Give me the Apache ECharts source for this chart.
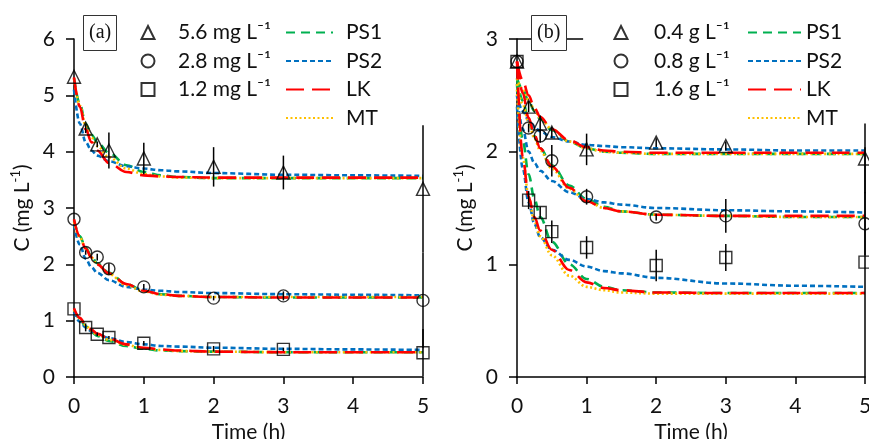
<!DOCTYPE html>
<html>
<head>
<meta charset="utf-8">
<script src="https://cdn.jsdelivr.net/npm/echarts@6/dist/echarts.min.js"></script>
<style>
html,body{margin:0;padding:0;background:#fff;}
#c{width:869px;height:439px;}
</style>
</head>
<body>
<div id="c"></div>
<script>
// ---------- measured points ----------
const tMeas = [0, 0.167, 0.333, 0.5, 1, 2, 3, 5];
// panel (a)
const a56 = [5.33, 4.41, 4.13, 4.02, 3.88, 3.73, 3.63, 3.34];
const a56Err = [0, 0.08, 0.05, 0.32, 0.28, 0.35, 0.3, 1.13];
const a28 = [2.8, 2.21, 2.13, 1.92, 1.6, 1.4, 1.44, 1.36];
const a28Err = [0, 0.04, 0.06, 0.1, 0.05, 0.04, 0.08, 0.85];
const a12 = [1.21, 0.88, 0.76, 0.7, 0.6, 0.5, 0.49, 0.43];
const a12Err = [0, 0.07, 0.03, 0.03, 0.04, 0.05, 0.03, 0.42];
// panel (b)
const b04 = [2.8, 2.4, 2.25, 2.17, 2.02, 2.08, 2.05, 1.94];
const b04Err = [0, 0.05, 0.07, 0.05, 0.14, 0.04, 0.04, 0.31];
const b08 = [2.8, 2.21, 2.14, 1.92, 1.6, 1.42, 1.43, 1.36];
const b08Err = [0, 0.04, 0.06, 0.14, 0.07, 0.03, 0.15, 0.28];
const b16 = [2.8, 1.57, 1.46, 1.29, 1.15, 0.99, 1.06, 1.02];
const b16Err = [0, 0.08, 0.05, 0.1, 0.1, 0.14, 0.12, 1.02];

// ---------- model curves ----------
const tFit = [0, 0.083, 0.167, 0.25, 0.333, 0.5, 0.75, 1, 1.25, 1.5, 2, 3, 4, 5];
// (a) 5.6 mg/L
const a56PS1 = [5.3, 4.85, 4.5, 4.3, 4.17, 3.98, 3.76, 3.64, 3.58, 3.55, 3.53, 3.53, 3.53, 3.53];
const a56PS2 = [5.1, 4.5, 4.17, 4.02, 3.93, 3.83, 3.74, 3.7, 3.67, 3.65, 3.62, 3.59, 3.58, 3.57];
const a56LK  = [5.32, 4.8, 4.4, 4.17, 4.02, 3.8, 3.64, 3.58, 3.56, 3.55, 3.54, 3.54, 3.54, 3.54];
const a56MT  = [5.3, 4.82, 4.47, 4.25, 4.1, 3.9, 3.7, 3.6, 3.56, 3.54, 3.53, 3.53, 3.53, 3.53];
// (a) 2.8 mg/L
const a28PS1 = [2.78, 2.5, 2.3, 2.14, 2.02, 1.85, 1.65, 1.53, 1.47, 1.44, 1.42, 1.41, 1.41, 1.41];
const a28PS2 = [2.7, 2.35, 2.1, 1.95, 1.85, 1.72, 1.6, 1.55, 1.53, 1.51, 1.49, 1.47, 1.46, 1.45];
const a28LK  = [2.8, 2.5, 2.28, 2.12, 2.0, 1.84, 1.65, 1.53, 1.47, 1.44, 1.42, 1.41, 1.41, 1.41];
const a28MT  = [2.75, 2.48, 2.28, 2.12, 2.0, 1.83, 1.63, 1.52, 1.46, 1.44, 1.42, 1.42, 1.42, 1.42];
// (a) 1.2 mg/L
const a12PS1 = [1.2, 1.03, 0.9, 0.8, 0.73, 0.64, 0.55, 0.5, 0.47, 0.46, 0.45, 0.44, 0.44, 0.44];
const a12PS2 = [1.15, 0.98, 0.88, 0.81, 0.76, 0.69, 0.62, 0.58, 0.55, 0.54, 0.52, 0.5, 0.49, 0.48];
const a12LK  = [1.22, 1.05, 0.93, 0.84, 0.77, 0.68, 0.58, 0.52, 0.49, 0.47, 0.45, 0.44, 0.44, 0.44];
const a12MT  = [1.2, 1.04, 0.92, 0.82, 0.75, 0.66, 0.57, 0.51, 0.48, 0.46, 0.45, 0.44, 0.44, 0.44];
// (b) 0.4 g/L
const b04PS1 = [2.65, 2.55, 2.45, 2.36, 2.29, 2.19, 2.09, 2.03, 2.0, 1.99, 1.98, 1.98, 1.98, 1.98];
const b04PS2 = [2.5, 2.36, 2.28, 2.22, 2.18, 2.13, 2.09, 2.06, 2.05, 2.04, 2.03, 2.02, 2.01, 2.01];
const b04LK  = [2.8, 2.63, 2.5, 2.39, 2.31, 2.2, 2.1, 2.04, 2.01, 2.0, 1.99, 1.99, 1.99, 1.99];
const b04MT  = [2.65, 2.55, 2.46, 2.37, 2.3, 2.2, 2.09, 2.03, 2.0, 1.99, 1.98, 1.98, 1.98, 1.98];
// (b) 0.8 g/L
const b08PS1 = [2.65, 2.45, 2.28, 2.14, 2.03, 1.88, 1.7, 1.58, 1.51, 1.47, 1.44, 1.43, 1.42, 1.42];
const b08PS2 = [2.5, 2.2, 2.0, 1.9, 1.83, 1.74, 1.64, 1.58, 1.55, 1.53, 1.5, 1.48, 1.47, 1.46];
const b08LK  = [2.8, 2.52, 2.3, 2.15, 2.03, 1.87, 1.68, 1.56, 1.5, 1.47, 1.44, 1.43, 1.43, 1.43];
const b08MT  = [2.6, 2.42, 2.26, 2.12, 2.01, 1.85, 1.67, 1.56, 1.5, 1.47, 1.44, 1.43, 1.42, 1.42];
// (b) 1.6 g/L
const b16PS1 = [2.6, 2.1, 1.8, 1.58, 1.42, 1.2, 1.0, 0.87, 0.8, 0.77, 0.75, 0.745, 0.745, 0.745];
const b16PS2 = [2.4, 1.85, 1.55, 1.36, 1.24, 1.13, 1.04, 0.98, 0.94, 0.92, 0.88, 0.83, 0.81, 0.8];
const b16LK  = [2.8, 1.95, 1.6, 1.42, 1.3, 1.13, 0.95, 0.84, 0.79, 0.77, 0.75, 0.745, 0.745, 0.745];
const b16MT  = [2.55, 1.95, 1.6, 1.38, 1.25, 1.08, 0.9, 0.8, 0.77, 0.75, 0.74, 0.74, 0.74, 0.74];

// ---------- labels ----------
const namesA = ['5.6 mg L⁻¹', '2.8 mg L⁻¹', '1.2 mg L⁻¹'];
const namesB = ['0.4 g L⁻¹', '0.8 g L⁻¹', '1.6 g L⁻¹'];
const modelNames = ['PS1', 'PS2', 'LK', 'MT'];
const xTicks = [0, 1, 2, 3, 4, 5];

// ---------- styles ----------
const FONT = 'Lato';
const FS = 21;
const modelStyle = {
  PS1: {color: '#00B050', type: [9, 6]},
  PS2: {color: '#0070C0', type: [5, 3]},
  LK:  {color: '#FF0000', type: [18, 8]},
  MT:  {color: '#FFC000', type: [2, 2.5]}
};
const symbols = ['triangle', 'circle', 'rect'];
const drawOrder = ['PS1', 'PS2', 'MT', 'LK'];

function zip(t, v) { return t.map((x, i) => [x, v[i]]); }

function curve(idx, name, vals) {
  const s = modelStyle[name];
  return {
    type: 'line', name: name, xAxisIndex: idx, yAxisIndex: idx,
    data: zip(tFit, vals), showSymbol: false, symbol: 'none',
    smooth: 0.35, smoothMonotone: 'x', silent: true, z: 3,
    lineStyle: {color: s.color, width: 2.6, type: s.type, cap: 'butt'},
    itemStyle: {color: s.color}
  };
}
function errBars(idx, v, e) {
  return {
    type: 'custom', xAxisIndex: idx, yAxisIndex: idx, silent: true, z: 6,
    data: tMeas.map((x, i) => [x, v[i] - e[i], v[i] + e[i]]),
    encode: {x: 0, y: [1, 2]},
    renderItem: function (params, api) {
      const p1 = api.coord([api.value(0), api.value(1)]);
      const p2 = api.coord([api.value(0), api.value(2)]);
      return {type: 'line', shape: {x1: p1[0], y1: p1[1], x2: p2[0], y2: p2[1]},
              style: {stroke: '#000', lineWidth: 1.5}};
    }
  };
}
function points(idx, name, sym, v) {
  return {
    type: 'scatter', name: name, xAxisIndex: idx, yAxisIndex: idx, silent: true, z: 7,
    data: zip(tMeas, v), symbol: sym, symbolSize: sym === 'triangle' ? 13 : 12,
    itemStyle: {color: 'rgba(0,0,0,0)', borderColor: '#000', borderWidth: 1.4}
  };
}

const series = [];
const panels = [
  {sets: [[a56PS1, a56PS2, a56LK, a56MT], [a28PS1, a28PS2, a28LK, a28MT], [a12PS1, a12PS2, a12LK, a12MT]],
   pts: [[a56, a56Err], [a28, a28Err], [a12, a12Err]], names: namesA},
  {sets: [[b04PS1, b04PS2, b04LK, b04MT], [b08PS1, b08PS2, b08LK, b08MT], [b16PS1, b16PS2, b16LK, b16MT]],
   pts: [[b04, b04Err], [b08, b08Err], [b16, b16Err]], names: namesB}
];
panels.forEach((p, idx) => {
  drawOrder.forEach(m => {
    const mi = modelNames.indexOf(m);
    p.sets.forEach(set => series.push(curve(idx, m, set[mi])));
  });
  p.pts.forEach((pe, k) => {
    series.push(errBars(idx, pe[0], pe[1]));
    series.push(points(idx, p.names[k], symbols[k], pe[0]));
  });
});
// short frame segment at the top of panel (b)
series.push({
  type: 'line', xAxisIndex: 1, yAxisIndex: 1, data: [], silent: true,
  markLine: {symbol: 'none', silent: true, label: {show: false},
    lineStyle: {color: '#000', width: 1.5, type: 'solid'},
    data: [[{coord: [0, 3]}, {coord: [0.95, 3]}]]}
});

const axisLineStyle = {color: '#000', width: 1.5};
function xAxis(idx) {
  return {
    type: 'value', gridIndex: idx, min: 0, max: 5, interval: 1,
    axisLine: {show: true, onZero: false, lineStyle: axisLineStyle},
    axisTick: {show: true, inside: false, length: 7, lineStyle: axisLineStyle},
    splitLine: {show: false},
    axisLabel: {fontFamily: FONT, fontSize: FS, color: '#111', margin: 19,
      formatter: v => xTicks.indexOf(v) >= 0 ? String(v) : ''},
    name: 'Time (h)', nameLocation: 'middle', nameGap: 43,
    nameTextStyle: {fontFamily: FONT, fontSize: FS, color: '#111'}
  };
}
function yAxis(idx, max) {
  return {
    type: 'value', gridIndex: idx, min: 0, max: max, interval: 1,
    axisLine: {show: true, lineStyle: axisLineStyle},
    axisTick: {show: true, inside: false, length: 8, lineStyle: axisLineStyle},
    splitLine: {show: false},
    axisLabel: {fontFamily: FONT, fontSize: FS, color: '#111', margin: 19},
    name: '{a|C (mg L}{b|-1}{a|)}', nameLocation: 'middle', nameGap: 41, nameRotate: 90,
    nameTextStyle: {rich: {
      a: {fontFamily: FONT, fontSize: FS, color: '#111', lineHeight: 24, verticalAlign: 'bottom'},
      b: {fontFamily: FONT, fontSize: 13, color: '#111', lineHeight: 24, verticalAlign: 'top'}
    }}
  };
}
function ptsLegend(left, names, pad) {
  return {
    orient: 'vertical', left: left, top: 22, padding: 0,
    itemWidth: 13, itemHeight: 13, itemGap: 7.5,
    data: names, selectedMode: false,
    textStyle: {fontFamily: FONT, fontSize: FS, color: '#111', padding: [0, 0, 0, pad]}
  };
}
function modelLegend(left, w, pad) {
  return {
    orient: 'vertical', left: left, top: 22, padding: 0,
    itemWidth: w, itemHeight: 13, itemGap: 7.5,
    data: modelNames, selectedMode: false,
    itemStyle: {opacity: 0},
    textStyle: {fontFamily: FONT, fontSize: FS, color: '#111', padding: [0, 0, 0, pad]}
  };
}
function box(text, left) {
  return {
    text: text, left: left, top: 15, padding: [8, 6, 8, 6],
    borderColor: '#333', borderWidth: 1, backgroundColor: '#fff',
    textStyle: {fontFamily: 'Liberation Serif', fontSize: 20, fontWeight: 'normal', color: '#111'}
  };
}

const option = {
  animation: false,
  backgroundColor: '#fff',
  title: [box('(a)', 83), box('(b)', 531)],
  grid: [
    {left: 74, top: 39, width: 349, height: 338, outerBoundsMode: 'none', containLabel: false},
    {left: 517, top: 39, width: 348, height: 338, outerBoundsMode: 'none', containLabel: false}
  ],
  xAxis: [xAxis(0), xAxis(1)],
  yAxis: [yAxis(0, 6), yAxis(1, 3)],
  legend: [
    ptsLegend(140.5, namesA, 18.5), modelLegend(285, 47, 8),
    ptsLegend(613.5, namesB, 21.5), modelLegend(747, 53, 0)
  ],
  series: series
};
const chart = echarts.init(document.getElementById('c'), null, {renderer: 'canvas'});
chart.setOption(option);
</script>
</body>
</html>
